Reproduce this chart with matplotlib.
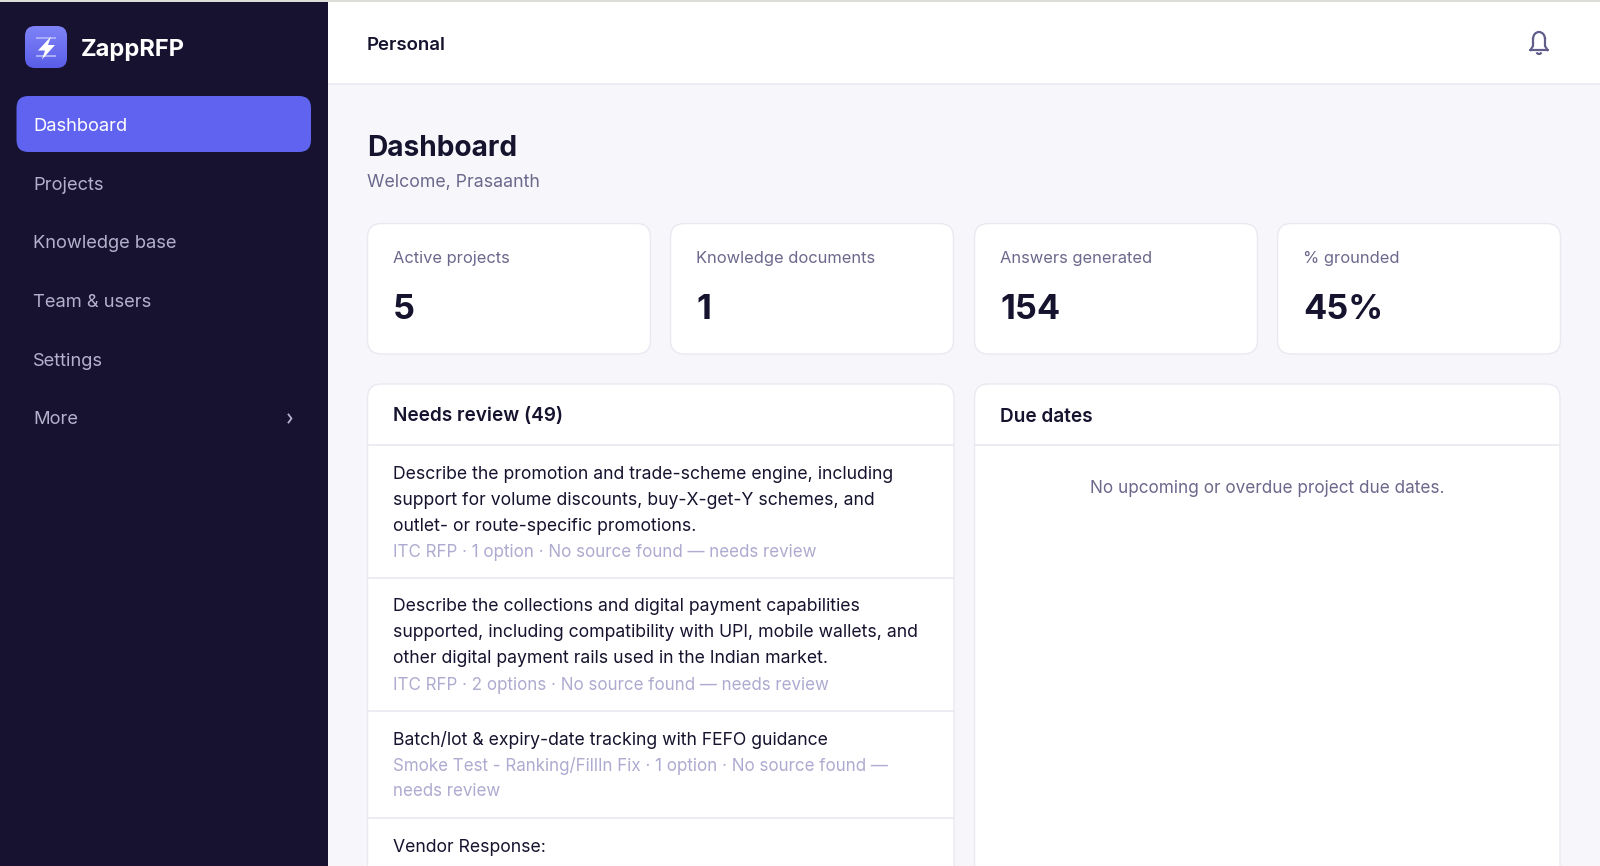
import numpy as np
import matplotlib
matplotlib.use('Agg')
import matplotlib.pyplot as plt
from matplotlib.patches import FancyBboxPatch, Polygon, Rectangle, Arc
from matplotlib.colors import LinearSegmentedColormap

plt.rcParams['font.family'] = ['Inter', 'DejaVu Sans']

# content
app_name = 'ZappRFP'
workspace = 'Personal'
nav_items = ['Dashboard', 'Projects', 'Knowledge base', 'Team & users', 'Settings', 'More']
page_title = 'Dashboard'
welcome = 'Welcome, Prasaanth'
card_labels = ['Active projects', 'Knowledge documents', 'Answers generated', '% grounded']
card_values = ['5', '1', '154', '45%']
review_title = 'Needs review (49)'
due_title = 'Due dates'
due_empty = 'No upcoming or overdue project due dates.'
review_questions = [
    ['Describe the promotion and trade-scheme engine, including',
     'support for volume discounts, buy-X-get-Y schemes, and',
     'outlet- or route-specific promotions.'],
    ['Describe the collections and digital payment capabilities',
     'supported, including compatibility with UPI, mobile wallets, and',
     'other digital payment rails used in the Indian market.'],
    ['Batch/lot & expiry-date tracking with FEFO guidance'],
    ['Vendor Response:'],
]
review_meta = [
    ['ITC RFP · 1 option · No source found — needs review'],
    ['ITC RFP · 2 options · No source found — needs review'],
    ['Smoke Test - Ranking/FillIn Fix · 1 option · No source found —', 'needs review'],
    [],
]

# colours
NAVY = '#16122f'
INDIGO = '#5f63ef'
PAGE = '#f7f7fb'
LINE = '#e9e9f1'
INK = '#15132e'
MUTED = '#6b688c'
FAINT = '#aeabd0'
NAV_TEXT = '#b4b1cd'


def rounded(ax, x0, y0, x1, y1, r, fc, ec='none', lw=0, z=1):
    p = FancyBboxPatch((x0 + r, y0 + r), x1 - x0 - 2 * r, y1 - y0 - 2 * r,
                       boxstyle=f'round,pad={r},rounding_size={r}',
                       fc=fc, ec=ec, lw=lw, zorder=z)
    ax.add_patch(p)
    return p


def label(ax, x, y, s, size, color, weight='normal', ha='left'):
    ax.text(x, y, s, fontsize=size, color=color, fontweight=weight, ha=ha,
            va='center_baseline', zorder=5)


fig = plt.figure(figsize=(16, 8.66), dpi=100)
ax = fig.add_axes([0, 0, 1, 1])
ax.set_xlim(0, 1600)
ax.set_ylim(866, 0)
ax.axis('off')

ax.add_patch(Rectangle((0, 0), 1600, 866, fc=PAGE, ec='none', zorder=0))

# top bar
ax.add_patch(Rectangle((327, 0), 1273, 84, fc='white', ec='none', zorder=1))
ax.plot([327, 1600], [84, 84], color=LINE, lw=1.2, zorder=2)
ax.add_patch(Rectangle((0, 0), 1600, 2, fc='#dcdcd8', ec='none', zorder=3))
label(ax, 367, 43, workspace, 13.4, INK, 'semibold')

# bell icon
BELL = '#615d8b'
ax.plot([1530, 1548], [50, 50], color=BELL, lw=1.6, solid_capstyle='round', zorder=4)
ax.plot([1530.5, 1533, 1533], [50, 46, 39], color=BELL, lw=1.6, zorder=4)
ax.plot([1547.5, 1545, 1545], [50, 46, 39], color=BELL, lw=1.6, zorder=4)
ax.add_patch(Arc((1539, 39), 12, 14, theta1=180, theta2=360, color=BELL, lw=1.6, zorder=4))
ax.add_patch(Arc((1539, 51.5), 5, 5, theta1=20, theta2=160, color=BELL, lw=1.6, zorder=4))

# sidebar
ax.add_patch(Rectangle((0, 0), 327.5, 866, fc=NAVY, ec='none', zorder=2))
logo = rounded(ax, 25, 26, 67, 68, 10, 'none', z=3)
cmap = LinearSegmentedColormap.from_list('logo', ['#7f83f7', '#5a5ee8'])
grad = ax.imshow(np.linspace(0, 1, 64).reshape(-1, 1), extent=(25, 67, 68, 26),
                 cmap=cmap, aspect='auto', zorder=3)
grad.set_clip_path(logo)
ax.set_xlim(0, 1600)
ax.set_ylim(866, 0)
ax.add_patch(Rectangle((36, 37), 20, 2.4, fc='#a9acf8', ec='none', zorder=4))
ax.add_patch(Rectangle((36, 55), 20, 2.4, fc='#a9acf8', ec='none', zorder=4))
ax.add_patch(Polygon([(51, 36.5), (38, 50.5), (45, 50.5), (42, 59.5), (55, 45), (48, 45)],
                     fc='white', ec='none', zorder=5))
label(ax, 81, 47.5, app_name, 17, 'white', 'bold')

rounded(ax, 16.5, 96, 311, 152, 12, INDIGO, z=3)
nav_y = [124.5, 183, 241.5, 300.5, 359.5, 418]
for i, (name, y) in enumerate(zip(nav_items, nav_y)):
    label(ax, 33, y, name, 13.2, 'white' if i == 0 else NAV_TEXT)
ax.plot([288.5, 291.5, 288.5], [414.5, 418.5, 422.5], color=NAV_TEXT, lw=1.3, zorder=5)

# heading
label(ax, 367, 145.5, page_title, 20.2, INK, 'bold')
label(ax, 367, 181, welcome, 12.75, MUTED)

# stat cards
card_x = [367.5, 670.5, 974.5, 1277.5]
for x, name, val in zip(card_x, card_labels, card_values):
    rounded(ax, x, 223.5, x + 283, 354, 14, 'white', LINE, 1.0)
    label(ax, x + 25.5, 257.5, name, 11.85, MUTED)
    label(ax, x + 25.5, 306.5, val, 24.7, INK, 'bold')

# panels run off the bottom of the page
for x0, x1, title in [(367.5, 954, review_title), (974.5, 1560, due_title)]:
    rounded(ax, x0, 384, x1, 930, 14, 'white', LINE, 1.0)
    label(ax, x0 + 25.5, 414.5, title, 13.7, INK, 'semibold')
    ax.plot([x0, x1], [445, 445], color=LINE, lw=1.2, zorder=2)
label(ax, 1267, 486.5, due_empty, 12.35, MUTED, ha='center')

# review rows
y = 472.5
step = 26.15
div_pad = [0.5, 1.5, 1.5]
row_pad = [27, 27, 28]
n = 0
for q_lines, m_lines in zip(review_questions, review_meta):
    for s in q_lines:
        label(ax, 393, y, s, 12.7, INK)
        y += step
    for s in m_lines:
        label(ax, 393, y, s, 12.23, FAINT)
        y += step
    if m_lines:
        div = y + div_pad[n]
        ax.plot([367.5, 954], [div, div], color=LINE, lw=1.2, zorder=2)
        y = div + row_pad[n]
        n += 1

fig.savefig('out.png', dpi=100)
